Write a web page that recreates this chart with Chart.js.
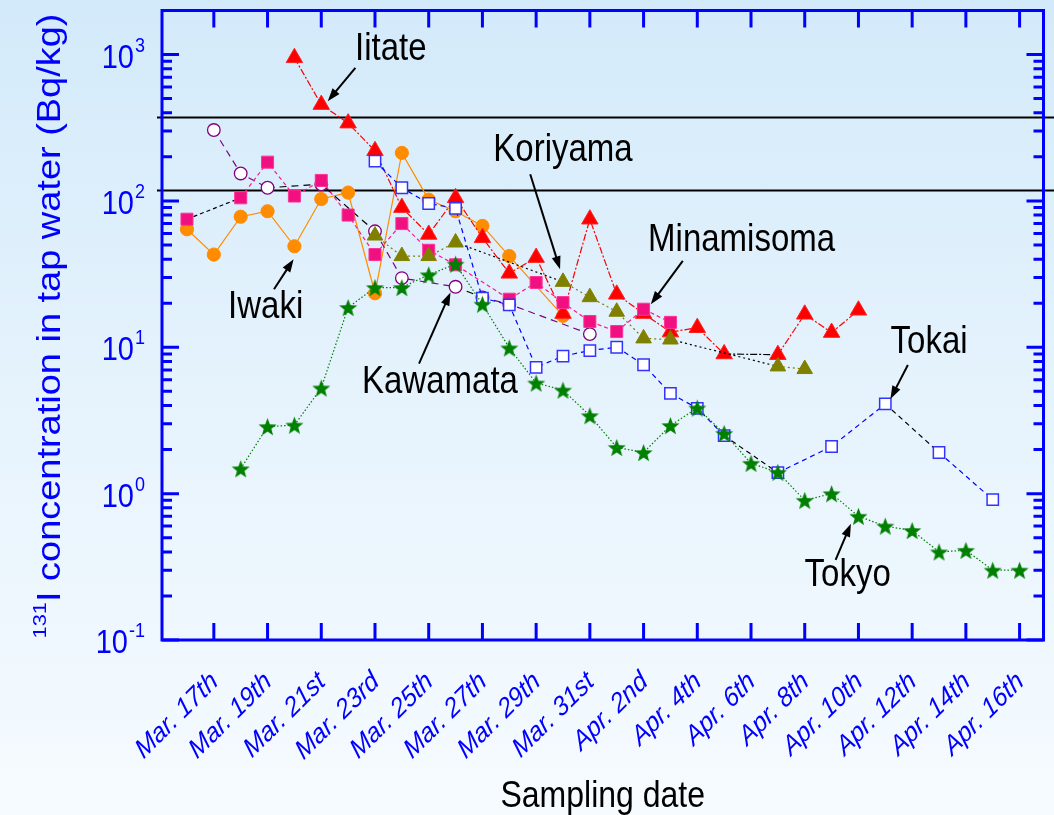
<!DOCTYPE html>
<html>
<head>
<meta charset="utf-8">
<script src="https://cdn.jsdelivr.net/npm/chart.js@4"></script>
<style>
  html, body { margin: 0; padding: 0; }
  body {
    width: 1054px; height: 815px; overflow: hidden;
    background: linear-gradient(to bottom, #d3eafa 0%, #e8f4fd 55%, #f6fbff 100%);
  }
  canvas { display: block; }
</style>
</head>
<body>
<canvas id="iodineChart" width="1054" height="815"></canvas>
<script>
// days are counted from March 1st (Apr. 1st = 32)
const tickDays = [17, 19, 21, 23, 25, 27, 29, 31, 33, 35, 37, 39, 41, 43, 45, 47];
const tickLabels = ['Mar. 17th', 'Mar. 19th', 'Mar. 21st', 'Mar. 23rd', 'Mar. 25th', 'Mar. 27th',
  'Mar. 29th', 'Mar. 31st', 'Apr. 2nd', 'Apr. 4th', 'Apr. 6th', 'Apr. 8th', 'Apr. 10th',
  'Apr. 12th', 'Apr. 14th', 'Apr. 16th'];
const yExponents = [-1, 0, 1, 2, 3];
const limitLevels = [376, 119];

const iitateDays = [20, 21, 22, 23, 24, 25, 26, 27, 28, 29, 30, 31, 32, 33, 34, 35, 36, 38, 39, 40, 41];
const iitateVals = [950, 455, 340, 220, 90, 59, 105, 56, 32, 41, 17, 75, 23, 17, 12.7, 13.6, 9.0, 8.9, 16.8, 12.6, 17.9];

const koriyamaDays = [23, 24, 25, 26, 30, 31, 32, 33, 34, 38, 39];
const koriyamaVals = [58, 42, 42, 52, 28, 22, 17.5, 11.5, 11.3, 7.4, 7.1];

const minamisomaDays = [16, 18, 19, 20, 21, 22, 23, 24, 25, 26, 28, 29, 30, 31, 32, 33, 34];
const minamisomaVals = [75, 105, 184, 108, 138, 80, 43, 70, 46, 36.6, 21.3, 27.7, 20.2, 15, 12.8, 18.2, 14.8];

const iwakiDays = [16, 17, 18, 19, 20, 21, 22, 23, 24, 25, 26, 27, 28, 30];
const iwakiVals = [64, 43, 78, 85, 49, 103, 114, 23.4, 213, 102, 85, 67.5, 42, 16.4];

const kawamataDays = [17, 18, 19, 21, 23, 24, 26, 27, 28, 31];
const kawamataVals = [305, 154, 123, 130, 62, 29.7, 25.9, 21.9, 19.7, 12.3];

const tokaiDays = [23, 24, 25, 26, 27, 28, 29, 30, 31, 32, 33, 34, 35, 36, 38, 40, 42, 44, 46];
const tokaiVals = [187, 123, 96, 89, 21.7, 19.5, 7.3, 8.7, 9.5, 10, 7.6, 4.84, 3.83, 2.49, 1.39, 2.1, 4.1, 1.91, 0.91];

const tokyoDays = [18, 19, 20, 21, 22, 23, 24, 25, 26, 27, 28, 29, 30, 31, 32, 33, 34, 35, 36, 37,
  38, 39, 40, 41, 42, 43, 44, 45, 46, 47];
const tokyoVals = [1.48, 2.87, 2.94, 5.27, 18.7, 25.6, 25.6, 31.3, 37, 19.7, 9.9, 5.7, 5.1, 3.41, 2.07, 1.91,
  2.92, 3.85, 2.58, 1.61, 1.40, 0.90, 1.0, 0.70, 0.60, 0.56, 0.40, 0.41, 0.30, 0.30];

// name labels: text centre, arrow tail, arrow tip (day, value)
const callouts = [
  { text: 'Iitate', at: [23.59, 1125], from: [22.27, 811], to: [21.24, 480] },
  { text: 'Koriyama', at: [30.0, 231], from: [28.78, 152], to: [29.89, 34.1] },
  { text: 'Minamisoma', at: [36.65, 56], from: [34.46, 38.9], to: [33.27, 19.7] },
  { text: 'Iwaki', at: [18.93, 19.4], from: [19.24, 24.9], to: [19.97, 40] },
  { text: 'Kawamata', at: [25.42, 6.0], from: [24.64, 7.74], to: [25.81, 23.7] },
  { text: 'Tokai', at: [43.63, 11.2], from: [42.84, 7.57], to: [42.19, 4.44] },
  { text: 'Tokyo', at: [40.6, 0.285], from: [40.15, 0.353], to: [40.72, 0.622] }
];

const FONT = '"Liberation Sans", Arial, sans-serif';
const STRETCH = 1.15;   // text in the picture is drawn tall and narrow
const AXIS_BLUE = '#0000ff';

function starImage(color, r) {
  const c = document.createElement('canvas');
  const s = Math.ceil(r * 2 + 2);
  c.width = s; c.height = s;
  const g = c.getContext('2d');
  g.beginPath();
  for (let i = 0; i < 10; i++) {
    const rad = i % 2 ? r * 0.42 : r;
    const a = -Math.PI / 2 + i * Math.PI / 5;
    g.lineTo(s / 2 + rad * Math.cos(a), s / 2 + rad * Math.sin(a) + 1);
  }
  g.closePath();
  g.fillStyle = color;
  g.fill();
  return c;
}

function toPoints(days, vals) {
  return days.map((d, i) => ({ x: d, y: vals[i] }));
}

// some connecting segments are black in the original
function blackSegments(list) {
  return { borderColor: c => list.includes(c.p0DataIndex) ? '#000000' : undefined };
}

function series(label, days, vals, opts) {
  return Object.assign({
    label: label,
    data: toPoints(days, vals),
    borderWidth: 1.2,
    pointBorderWidth: 1,
    pointHoverRadius: 0,
    tension: 0,
    fill: false
  }, opts);
}

// first dataset is drawn on top
const datasets = [
  series('Tokyo', tokyoDays, tokyoVals, {
    borderColor: '#008000', borderDash: [1.5, 2], pointStyle: starImage('#008000', 9.5), pointRadius: 9
  }),
  series('Tokai', tokaiDays, tokaiVals, {
    borderColor: '#0000ff', borderDash: [5, 4], pointStyle: 'rect', pointRadius: 8,
    pointBackgroundColor: '#ffffff', pointBorderColor: '#3333ff', pointBorderWidth: 1.5,
    segment: blackSegments([13, 16])
  }),
  series('Koriyama', koriyamaDays, koriyamaVals, {
    borderColor: '#808000', borderDash: [2, 3], pointStyle: 'triangle', pointRadius: 9,
    pointBackgroundColor: '#808000', pointBorderColor: '#808000',
    segment: blackSegments([3, 8])
  }),
  series('Minamisoma', minamisomaDays, minamisomaVals, {
    borderColor: '#ff1a8c', borderDash: [4, 3], pointStyle: 'rect', pointRadius: 8.5,
    pointBackgroundColor: '#f0107f', pointBorderColor: '#ff3399',
    segment: blackSegments([0])
  }),
  series('Iitate', iitateDays, iitateVals, {
    borderColor: '#ff0000', borderDash: [7, 2, 2, 2], pointStyle: 'triangle', pointRadius: 9.5,
    pointBackgroundColor: '#ff0000', pointBorderColor: '#ff2020',
    segment: blackSegments([16])
  }),
  series('Kawamata', kawamataDays, kawamataVals, {
    borderColor: '#800080', borderDash: [7, 5], pointStyle: 'circle', pointRadius: 6.3,
    pointBackgroundColor: '#ffffff', pointBorderColor: '#800080', pointBorderWidth: 1.3,
    segment: blackSegments([2, 3, 6])
  }),
  series('Iwaki', iwakiDays, iwakiVals, {
    borderColor: '#ff8c00', pointStyle: 'circle', pointRadius: 6.6,
    pointBackgroundColor: '#ff8c00', pointBorderColor: '#ff8c00'
  })
];

function stretchedText(ctx, str, x, y, font, color, align, baseline, angle) {
  ctx.save();
  ctx.translate(x, y);
  ctx.scale(1, STRETCH);
  if (angle) ctx.rotate(angle);
  ctx.font = font;
  ctx.fillStyle = color;
  ctx.textAlign = align || 'left';
  ctx.textBaseline = baseline || 'alphabetic';
  ctx.fillText(str, 0, 0);
  ctx.restore();
}

function arrow(ctx, x0, y0, x1, y1) {
  const a = Math.atan2(y1 - y0, x1 - x0);
  const head = 13, half = 4.5;
  ctx.save();
  ctx.strokeStyle = '#000';
  ctx.fillStyle = '#000';
  ctx.lineWidth = 2;
  ctx.beginPath();
  ctx.moveTo(x0, y0);
  ctx.lineTo(x1 - Math.cos(a) * head * 0.8, y1 - Math.sin(a) * head * 0.8);
  ctx.stroke();
  ctx.beginPath();
  ctx.moveTo(x1, y1);
  ctx.lineTo(x1 - Math.cos(a) * head - Math.sin(a) * half, y1 - Math.sin(a) * head + Math.cos(a) * half);
  ctx.lineTo(x1 - Math.cos(a) * head + Math.sin(a) * half, y1 - Math.sin(a) * head - Math.cos(a) * half);
  ctx.closePath();
  ctx.fill();
  ctx.restore();
}

const decorations = {
  id: 'decorations',
  beforeDatasetsDraw(chart) {
    const { ctx, chartArea, scales: { y } } = chart;
    ctx.save();
    ctx.strokeStyle = '#000';
    ctx.lineWidth = 2;
    limitLevels.forEach(v => {
      const py = Math.round(y.getPixelForValue(v)) + 0.5;
      ctx.beginPath();
      ctx.moveTo(chartArea.left - 5, py);
      ctx.lineTo(chart.width, py);
      ctx.stroke();
    });
    ctx.restore();
  },
  afterDatasetsDraw(chart) {
    const { ctx, chartArea: a, scales: { x, y } } = chart;
    ctx.save();
    ctx.strokeStyle = AXIS_BLUE;
    ctx.lineWidth = 3;
    ctx.strokeRect(a.left, a.top, a.right - a.left, a.bottom - a.top);

    // log ticks on left and right
    ctx.beginPath();
    yExponents.forEach(e => {
      for (let m = 1; m <= 9; m++) {
        const v = m * Math.pow(10, e);
        if (v < y.min || v > y.max) continue;
        const py = y.getPixelForValue(v);
        const len = m === 1 ? 17 : 10;
        ctx.moveTo(a.left, py); ctx.lineTo(a.left + len, py);
        ctx.moveTo(a.right, py); ctx.lineTo(a.right - len, py);
      }
    });
    tickDays.forEach(d => {
      const px = x.getPixelForValue(d);
      ctx.moveTo(px, a.bottom); ctx.lineTo(px, a.bottom - 17);
      ctx.moveTo(px, a.top); ctx.lineTo(px, a.top + 17);
    });
    ctx.stroke();

    // y tick labels 10^n
    yExponents.forEach(e => {
      const py = y.getPixelForValue(Math.pow(10, e));
      const supStr = String(e);
      ctx.font = '18px ' + FONT;
      const supW = ctx.measureText(supStr).width;
      const right = 145;
      stretchedText(ctx, '10', right - supW - 1, py + 13, '29px ' + FONT, AXIS_BLUE, 'right');
      stretchedText(ctx, supStr, right - supW, py - 3, '18px ' + FONT, AXIS_BLUE, 'left');
    });

    // x tick labels, slanted at about 45 degrees on screen
    const slant = -Math.atan(1 / STRETCH);
    tickDays.forEach((d, i) => {
      const px = x.getPixelForValue(d);
      stretchedText(ctx, tickLabels[i], px + 1, a.bottom + 38, 'italic 24px ' + FONT, AXIS_BLUE,
        'right', 'middle', slant);
    });

    // axis titles
    stretchedText(ctx, 'Sampling date', (a.left + a.right) / 2, 807, '32px ' + FONT, '#000', 'center');

    ctx.save();
    ctx.translate(60, 326);
    ctx.scale(1, STRETCH);
    ctx.rotate(-Math.PI / 2);
    ctx.fillStyle = AXIS_BLUE;
    ctx.font = '19px ' + FONT;
    const supW = ctx.measureText('131').width;
    ctx.font = '33px ' + FONT;
    const mainStr = 'I concentration in tap water (Bq/kg)';
    const mainW = ctx.measureText(mainStr).width;
    const start = -(supW + mainW) / 2;
    ctx.font = '19px ' + FONT;
    ctx.fillText('131', start, -14);
    ctx.font = '33px ' + FONT;
    ctx.fillText(mainStr, start + supW, 0);
    ctx.restore();

    // callouts
    callouts.forEach(c => {
      const tx = x.getPixelForValue(c.at[0]);
      const ty = y.getPixelForValue(c.at[1]);
      stretchedText(ctx, c.text, tx, ty + 13, '33px ' + FONT, '#000', 'center');
      arrow(ctx, x.getPixelForValue(c.from[0]), y.getPixelForValue(c.from[1]),
        x.getPixelForValue(c.to[0]), y.getPixelForValue(c.to[1]));
    });
    ctx.restore();
  }
};

const ctx = document.getElementById('iodineChart').getContext('2d');
const iodineChart = new Chart(ctx, {
  type: 'line',
  data: { datasets: datasets },
  options: {
    responsive: false,
    devicePixelRatio: 1,
    animation: false,
    layout: { padding: { left: 162, right: 7, top: 9, bottom: 175 } },
    plugins: { legend: { display: false }, tooltip: { enabled: false } },
    scales: {
      x: { type: 'linear', min: 15.07, max: 47.89, display: false },
      y: { type: 'logarithmic', min: 0.1, max: 2000, display: false }
    }
  },
  plugins: [decorations]
});
</script>
</body>
</html>
